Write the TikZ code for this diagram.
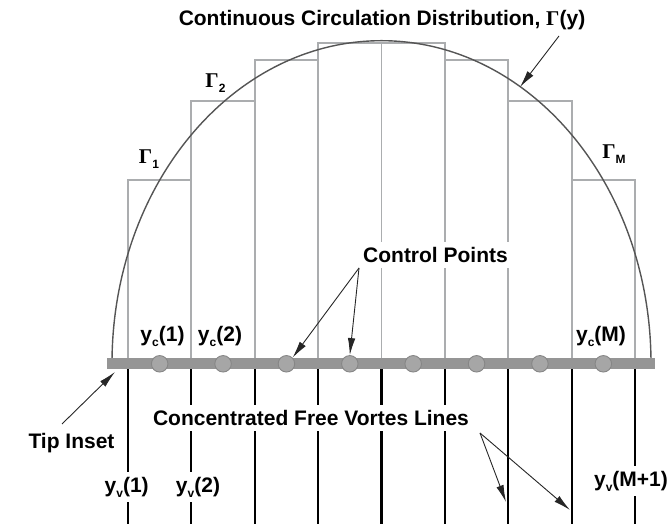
\documentclass[tikz,border=0pt]{standalone}
\usepackage{fontspec}
\setmainfont{Liberation Sans}
\newfontfamily\grk{Liberation Serif}
\usetikzlibrary{arrows.meta}
\definecolor{barg}{HTML}{959595}
\definecolor{stepg}{HTML}{ABADAF}
\definecolor{arcg}{HTML}{555555}
\definecolor{dotg}{HTML}{A6A6A6}
\definecolor{dotline}{HTML}{868686}
\newcommand{\lowidx}[1]{\raisebox{-.45ex}{\fontsize{12}{12}\selectfont #1}}
\newcommand{\Gam}{{\grk Γ}}

\begin{document}
\begin{tikzpicture}[x=1pt,y=1pt,>={Latex[length=17pt,width=7.5pt]},
  every node/.style={font=\bfseries\fontsize{21}{24}\selectfont},
  lbl/.style={fill=white,inner sep=5pt},
  pointer/.style={->,line width=.9pt,black!85}]
\useasboundingbox (0,0) rectangle (669,524);
% stepped circulation
\foreach \i/\h in {0/344,1/423.3,2/464,3/481.3,4/481.3,5/464,6/423.3,7/344}
  \draw[stepg,line width=1.9pt] ({128+63.375*\i},160) rectangle ({191.375+63.375*\i},\h);
% continuous distribution
\draw[arcg,line width=1.4pt] (112,160.5) arc[start angle=180,end angle=0,x radius=269.5,y radius=322.8];
% trailing vortex lines
\foreach \i in {0,...,8}
  \draw[line width=2.2pt] ({128+63.375*\i},158) -- ({128+63.375*\i},0);
% bound vortex and control points
\fill[barg] (107,154.5) rectangle (655,166);
\foreach \i in {1,...,8}
  \node[circle,draw=dotline,fill=dotg,line width=.9pt,minimum size=16.5pt,inner sep=0pt] (cp\i) at ({128+63.375*(\i-.5)},160.2) {};

\node (title) at (382,504) {Continuous Circulation Distribution, \Gam(y)};
\node (g1) at (149,365) {\Gam\lowidx{1}};
\node (g2) at (215.5,441) {\Gam\lowidx{2}};
\node (gm) at (614,370) {\Gam\lowidx{M}};
\node[lbl] (cplbl) at (435.5,269) {Control Points};
\node (yc1) at (162.5,188) {y\lowidx{c}(1)};
\node (yc2) at (220,188) {y\lowidx{c}(2)};
\node (ycm) at (601,188) {y\lowidx{c}(M)};
\node (tip) at (71.5,81) {Tip Inset};
\node[lbl] (vlbl) at (311,106) {Concentrated Free Vortes Lines};
\node[lbl] (yv1) at (126.7,37) {y\lowidx{v}(1)};
\node[lbl] (yv2) at (198,37) {y\lowidx{v}(2)};
\node[lbl] (yvm) at (631,43) {y\lowidx{v}(M+1)};

\coordinate (gyfrom) at (559,488);
\coordinate (gy) at (520,437);
\coordinate (cpfrom) at (359,256);
\coordinate (tipfrom) at (62,100);
\coordinate (tipto) at (115,152);
\coordinate (vlfrom) at (480,91);
\coordinate (vl7) at (506,22);
\coordinate (vl8) at (570,14);
\draw[pointer] (gyfrom) -- (gy);
\draw[pointer] (cpfrom) -- (cp3.north east);
\draw[pointer] (cpfrom) -- (cp4.north);
\draw[pointer] (tipfrom) -- (tipto);
\draw[pointer] (vlfrom) -- (vl7);
\draw[pointer] (vlfrom) -- (vl8);
\end{tikzpicture}
\end{document}
